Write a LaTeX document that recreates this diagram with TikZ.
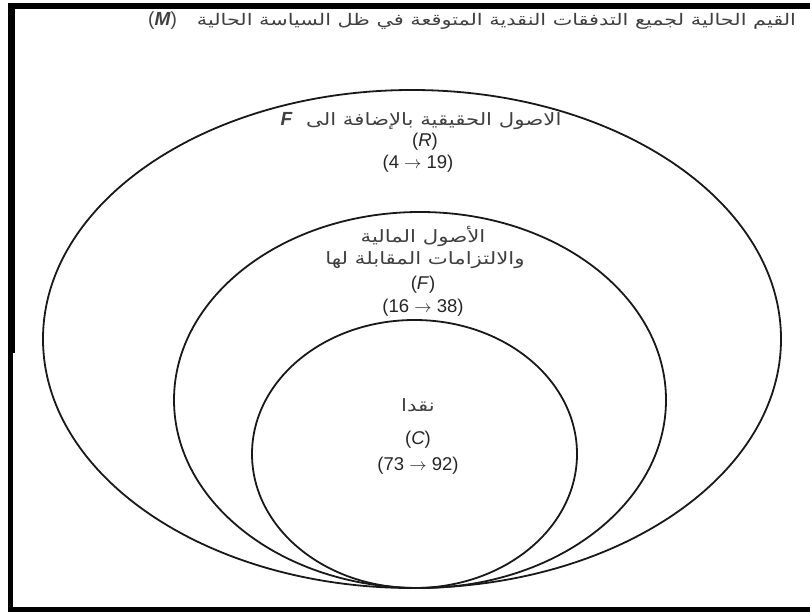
\documentclass[tikz,border=0pt]{standalone}
\usepackage{fontspec}
\setmainfont{Liberation Sans}
\newfontfamily\arabicfont[Script=Arabic,FakeStretch=1.25]{DejaVu Sans}
\newfontfamily\arabictitle[Script=Arabic,FakeStretch=1.3]{DejaVu Sans}
\TeXXeTstate=1
\begin{document}
\begin{tikzpicture}[x=1pt,y=-1pt,
  ring/.style={draw=black!90,line width=1.8pt},
  lbl/.style={text=black!85,align=center,inner sep=0pt,font=\fontsize{18.5}{22}\selectfont},
  arlbl/.style={text=black!75,align=center,inner sep=0pt,font=\fontsize{17}{22}\arabicfont},
  bar/.style={fill=black}]
\useasboundingbox (0,0) rectangle (810,612);
\fill[white] (0,0) rectangle (810,612);
% frame
\fill[bar] (8,3) rectangle (810,9);
\fill[bar] (8,3) rectangle (15,353);
\fill[bar] (8,353) rectangle (13,612);
\fill[bar] (8,607) rectangle (810,612);
% ellipses
\draw[ring] (412,339) ellipse [x radius=369, y radius=249];
\draw[ring] (420,400) ellipse [x radius=246, y radius=188];
\draw[ring] (414.5,454) ellipse [x radius=162.5, y radius=134];
% texts
\node[arlbl,anchor=east,font=\fontsize{16}{18}\arabictitle] (title) at (796,21)
  {\beginR القيم الحالية لجميع التدفقات النقدية المتوقعة في ظل السياسة الحالية\ \ \ \beginL{\normalfont\fontsize{19}{20}\selectfont(\textbf{\textit{M}})}\endL\endR};
\node[arlbl] (r1) at (421,121) {\beginR الاصول الحقيقية بالإضافة الى\ \ \beginL{\normalfont\fontsize{19}{20}\selectfont\textbf{\textit{F}}}\endL\endR};
\node[lbl] (r2) at (425,142) {(\textit{R})};
\node[lbl] (r3) at (418,164) {(4 $\rightarrow$ 19)};
\node[arlbl] (f1) at (423,236) {\beginR الأصول المالية\endR};
\node[arlbl] (f2) at (425,260) {\beginR والالتزامات المقابلة لها\endR};
\node[lbl] (f3) at (423,285) {(\textit{F})};
\node[lbl] (f4) at (423,308) {(16 $\rightarrow$ 38)};
\node[arlbl] (c1) at (418,405) {\beginR نقدا\endR};
\node[lbl] (c2) at (418,440) {(\textit{C})};
\node[lbl] (c3) at (418,466) {(73 $\rightarrow$ 92)};
\end{tikzpicture}
\end{document}
